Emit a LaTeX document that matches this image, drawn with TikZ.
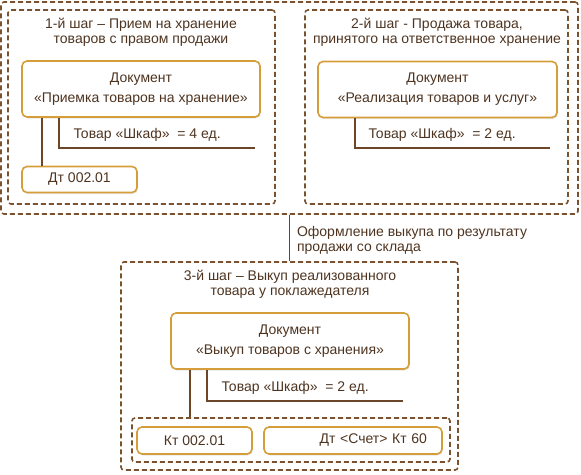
\documentclass[tikz,border=0pt]{standalone}
\usepackage{fontspec}
\setmainfont{Liberation Sans}
\usetikzlibrary{shadows}

\definecolor{framebrown}{RGB}{122,82,46}
\definecolor{docgold}{RGB}{214,158,58}
\definecolor{textbrown}{RGB}{78,52,32}
\definecolor{linebrown}{RGB}{108,70,38}

\begin{document}
\begin{tikzpicture}[x=1pt,y=-1pt,
        font=\fontsize{14}{15}\selectfont, text=textbrown,
        frame/.style={draw=framebrown,line width=1.6pt,dash pattern=on 5pt off 3pt,
            rounded corners=3pt,inner sep=0pt},
        docbox/.style={draw=docgold,line width=1.6pt,fill=white,rounded corners=5pt,
            drop shadow={opacity=0.18,shadow xshift=1pt,shadow yshift=-1.5pt},
            inner sep=0pt,align=center},
        title/.style={align=center},
        link/.style={draw=linebrown,line width=1.6pt}]

    \useasboundingbox (0,0) rectangle (581,474);

    % first row: steps 1 and 2
    \node[frame,minimum width=577pt,minimum height=212pt] (outer) at (289.5,108) {};
    \node[frame,minimum width=267pt,minimum height=194pt] (step1) at (141.5,107) {};
    \node[frame,minimum width=263pt,minimum height=194pt] (step2) at (436.5,107) {};

    \node[title] (title1) at (141,32.5) {1-й шаг – Прием на хранение\\товаров с правом продажи};
    \node[title] (title2) at (437,32.5) {2-й шаг - Продажа товара,\\принятого на ответственное хранение};

    \node[docbox,minimum width=238pt,minimum height=56pt] (doc1) at (141,89)
        {Документ\\[5pt]«Приемка товаров на хранение»};
    \node[docbox,minimum width=239pt,minimum height=56pt] (doc2) at (437.5,89.5)
        {Документ\\[5pt]«Реализация товаров и услуг»};

    \node[docbox,minimum width=115pt,minimum height=26pt] (dt1) at (79.5,179.5) {Дт 002.01};

    \coordinate (end1) at (255,148);
    \coordinate (end2) at (550,148);
    \draw[link] ([xshift=38pt]doc1.south west) |- (end1);
    \draw[link] ([xshift=38pt]doc2.south west) |- (end2);
    \node[anchor=west] (qty1) at (70,135) {Товар «Шкаф»\ \ = 4 ед.};
    \node[anchor=west] (qty2) at (365,135) {Товар «Шкаф»\ \ = 2 ед.};
    \draw[link] ([xshift=21pt]doc1.south west) -- ([xshift=21pt]dt1.north west);

    % step 3
    \node[frame,minimum width=337pt,minimum height=208pt] (step3) at (289.5,366) {};
    \draw[link] (outer.south) -- (step3.north);
    \node[anchor=west,align=left] (note) at (293.5,240)
        {Оформление выкупа по результату\\продажи со склада};

    \node[title] (title3) at (290,284.5) {3-й шаг – Выкуп реализованного\\товара у поклажедателя};
    \node[docbox,minimum width=238pt,minimum height=56pt] (doc3) at (290,341)
        {Документ\\[5pt]«Выкуп товаров с хранения»};

    \node[frame,minimum width=318pt,minimum height=44pt] (postings) at (291,440) {};
    \node[docbox,minimum width=115pt,minimum height=27pt] (kt3) at (194.5,440.5) {Кт 002.01};
    \node[docbox,minimum width=178pt,minimum height=27pt,text width=148pt,
        inner xsep=15pt,align=right] (dt3) at (353,440.5) {Дт <Счет> Кт 60};

    \coordinate (end3) at (403,401);
    \draw[link] ([xshift=37pt]doc3.south west) |- (end3);
    \node[anchor=west] (qty3) at (218,388) {Товар «Шкаф»\ \ = 2 ед.};
    \draw[link] ([xshift=20pt]doc3.south west) -- ([xshift=20pt]doc3.south west |- postings.north);
\end{tikzpicture}
\end{document}
